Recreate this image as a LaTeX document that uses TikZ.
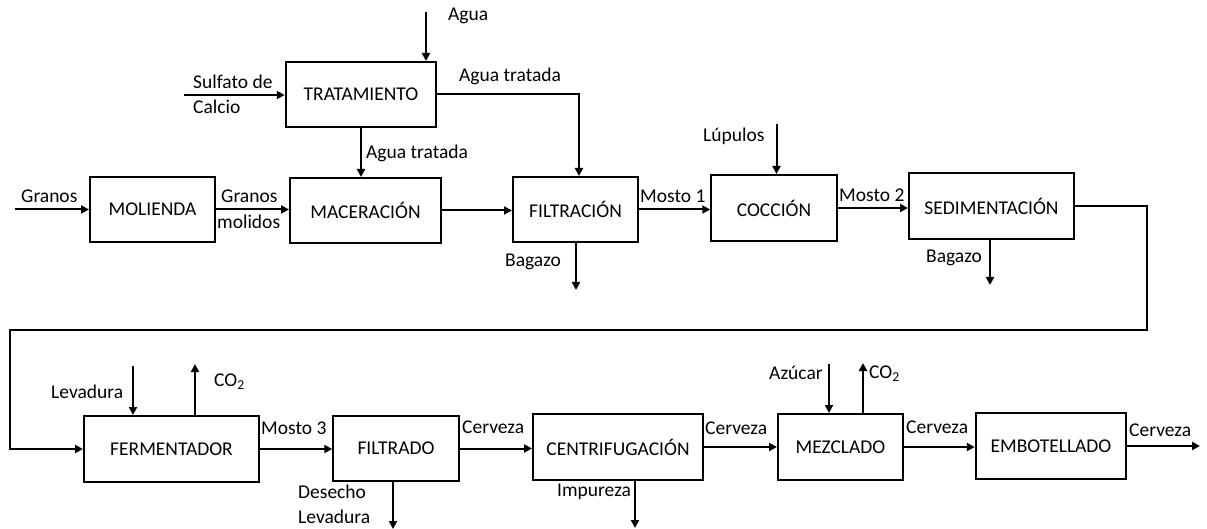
\documentclass[tikz,border=0pt]{standalone}
\usepackage{fontspec}
\setmainfont{Carlito}
\usetikzlibrary{arrows.meta}
\begin{document}
\begin{tikzpicture}[x=1pt,y=-1pt,
 box/.style={draw,line width=2pt,inner sep=0pt,font=\fontsize{19.5}{22}\selectfont},
 arr/.style={line width=2pt,-{Triangle[length=8pt,width=8pt]}},
 lbl/.style={inner sep=0pt,font=\fontsize{19.5}{22}\selectfont,anchor=west}]
\useasboundingbox (0,0) rectangle (1207,529);
% boxes
\node[box,minimum width=150.5pt,minimum height=65pt] (trat) at (361,94.5) {TRATAMIENTO};
\node[box,minimum width=125pt,minimum height=65pt] (mol) at (152.5,209.5) {MOLIENDA};
\node[box,minimum width=151pt,minimum height=65pt] (mac) at (365.5,210.5) {MACERACIÓN};
\node[box,minimum width=125pt,minimum height=65pt] (filt) at (575.5,209.5) {FILTRACIÓN};
\node[box,minimum width=125.5pt,minimum height=66pt] (cocc) at (774,208) {COCCIÓN};
\node[box,minimum width=165pt,minimum height=66pt] (sed) at (991.5,206) {SEDIMENTACIÓN};
\node[box,minimum width=175pt,minimum height=66pt] (ferm) at (171.5,449) {FERMENTADOR};
\node[box,minimum width=125.5pt,minimum height=65pt] (ftdo) at (396,448.5) {FILTRADO};
\node[box,minimum width=170pt,minimum height=66pt] (centr) at (618,447) {CENTRIFUGACIÓN};
\node[box,minimum width=125pt,minimum height=66pt] (mez) at (840.5,447) {MEZCLADO};
\node[box,minimum width=150.5pt,minimum height=66pt] (emb) at (1051,446) {EMBOTELLADO};
% labels
\node[lbl] (lagua) at (448,16) {Agua};
\node[lbl] (lsulf1) at (193,82) {Sulfato de};
\node[lbl] (lsulf2) at (193,107) {Calcio};
\node[lbl] (lat1) at (459,76) {Agua tratada};
\node[lbl] (lat2) at (366,153) {Agua tratada};
\node[lbl] (lgranos) at (21,196) {Granos};
\node[lbl] (lgranos2) at (221,196) {Granos};
\node[lbl] (lmolidos) at (217,222) {molidos};
\node[lbl] (lbag1) at (505,262) {Bagazo};
\node[lbl] (lmosto1) at (640,196) {Mosto 1};
\node[lbl] (llup) at (703,136) {Lúpulos};
\node[lbl] (lmosto2) at (839,195) {Mosto 2};
\node[lbl] (lbag2) at (926,258) {Bagazo};
\node[lbl] (llev) at (51,392) {Levadura};
\node[lbl] (lco2a) at (214,382) {CO\textsubscript{2}};
\node[lbl] (lmosto3) at (261,428) {Mosto 3};
\node[lbl] (ldes1) at (298,492) {Desecho};
\node[lbl] (ldes2) at (298,517) {Levadura};
\node[lbl] (lcer1) at (462,427) {Cerveza};
\node[lbl] (limp) at (557,492) {Impureza};
\node[lbl] (lcer2) at (705,428) {Cerveza};
\node[lbl] (laz) at (769,373) {Azúcar};
\node[lbl] (lco2b) at (869,374) {CO\textsubscript{2}};
\node[lbl] (lcer3) at (906,427) {Cerveza};
\node[lbl] (lcer4) at (1129,430) {Cerveza};
% free ends
\coordinate (agsrc) at (426,12);
\coordinate (sulsrc) at (184,95);
\coordinate (atc) at (579,94.5);
\coordinate (grsrc) at (15,209.5);
\coordinate (bag1) at (576,290);
\coordinate (lup) at (776.5,124);
\coordinate (r1) at (1147,330);
\coordinate (r2) at (9.6,330);
\coordinate (bag2) at (990,285);
\coordinate (lev) at (133,366);
\coordinate (co2a) at (195,364);
\coordinate (des) at (393,529);
\coordinate (imp) at (635,528);
\coordinate (az) at (829,364);
\coordinate (co2b) at (863,363);
\coordinate (out) at (1200,446);
% connectors
\draw[arr] (agsrc) -- (agsrc |- trat.north);
\draw[arr] (sulsrc) -- (sulsrc -| trat.west);
\draw[arr] (trat.east) -- (atc) -- (atc |- filt.north);
\draw[arr] (trat.south) -- (trat.south |- mac.north);
\draw[arr] (grsrc) -- (grsrc -| mol.west);
\draw[arr] (mol.east) -- (mol.east -| mac.west);
\draw[arr] (mac.east) -- (mac.east -| filt.west);
\draw[arr] (filt.east) -- (filt.east -| cocc.west);
\draw[arr] (cocc.east) -- (cocc.east -| sed.west);
\draw[arr] (bag1 |- filt.south) -- (bag1);
\draw[arr] (lup) -- (lup |- cocc.north);
\draw[arr] (bag2 |- sed.south) -- (bag2);
\draw[arr] (sed.east) -- (sed.east -| r1) -- (r1) -- (r2) -- (r2 |- ferm.west) -- (ferm.west);
\draw[arr] (lev) -- (lev |- ferm.north);
\draw[arr] (co2a |- ferm.north) -- (co2a);
\draw[arr] (ferm.east) -- (ferm.east -| ftdo.west);
\draw[arr] (ftdo.east) -- (ftdo.east -| centr.west);
\draw[arr] (centr.east) -- (centr.east -| mez.west);
\draw[arr] (mez.east) -- (mez.east -| emb.west);
\draw[arr] (des |- ftdo.south) -- (des);
\draw[arr] (imp |- centr.south) -- (imp);
\draw[arr] (az) -- (az |- mez.north);
\draw[arr] (co2b |- mez.north) -- (co2b);
\draw[arr] (emb.east) -- (out);
\end{tikzpicture}
\end{document}
